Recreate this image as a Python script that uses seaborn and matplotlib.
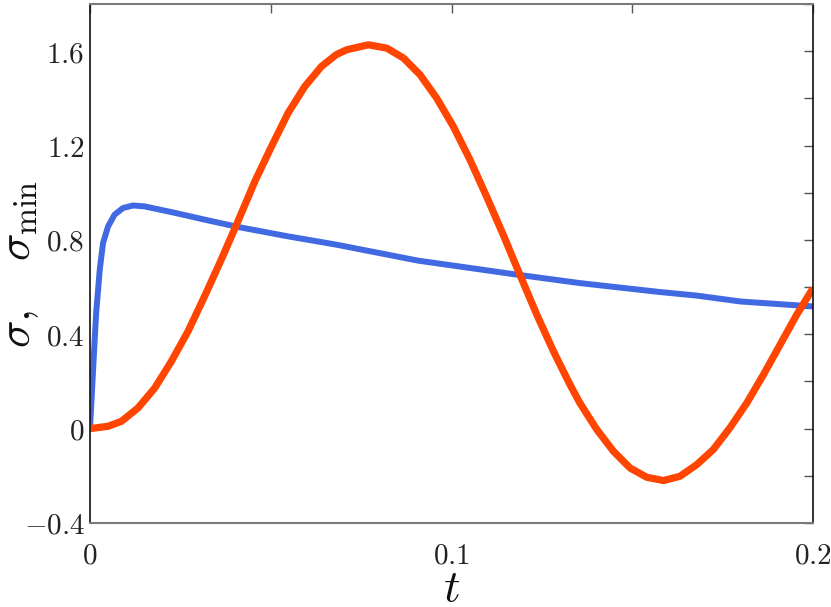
import numpy as np
import pandas as pd
import matplotlib
matplotlib.use("Agg")
import matplotlib.pyplot as plt
import seaborn as sns

# ---- data ----
t_sigma = [0.0, 0.0011, 0.0017, 0.0027, 0.0036, 0.0050, 0.0068, 0.0091, 0.0119,
           0.0151, 0.0225, 0.0317, 0.0409, 0.0548, 0.0681, 0.0908, 0.1033,
           0.1180, 0.1355, 0.1577, 0.1678, 0.1799, 0.2000]
sigma = [0.0, 0.321, 0.490, 0.674, 0.787, 0.857, 0.907, 0.935, 0.946,
         0.942, 0.918, 0.886, 0.855, 0.815, 0.780, 0.712, 0.685,
         0.653, 0.617, 0.579, 0.564, 0.539, 0.518]

t_smin = [0.0, 0.0050, 0.0087, 0.0133, 0.0179, 0.0225, 0.0271, 0.0317, 0.0363,
          0.0409, 0.0456, 0.0502, 0.0548, 0.0594, 0.0640, 0.0681, 0.0710,
          0.0770, 0.0821, 0.0867, 0.0913, 0.0959, 0.1005, 0.1051, 0.1097,
          0.1143, 0.1189, 0.1236, 0.1282, 0.1328, 0.1355, 0.1402, 0.1448,
          0.1494, 0.1540, 0.1586, 0.1632, 0.1678, 0.1724, 0.1770, 0.1817,
          0.1863, 0.1909, 0.1955, 0.2000]
sigma_min = [0.0, 0.010, 0.031, 0.088, 0.172, 0.285, 0.412, 0.561, 0.716,
             0.878, 1.048, 1.196, 1.338, 1.450, 1.535, 1.585, 1.606,
             1.627, 1.613, 1.571, 1.500, 1.401, 1.281, 1.140, 0.984,
             0.822, 0.653, 0.483, 0.328, 0.186, 0.109, -0.004, -0.096,
             -0.167, -0.206, -0.220, -0.202, -0.153, -0.089, 0.003, 0.109,
             0.229, 0.356, 0.483, 0.595]

xticks = [0.0, 0.05, 0.1, 0.15, 0.2]
xticklabels = [r"$0$", "", r"$0.1$", "", r"$0.2$"]
yticks = [-0.4, -0.2, 0.0, 0.2, 0.4, 0.6, 0.8, 1.0, 1.2, 1.4, 1.6, 1.8]
yticklabels = [r"$-0.4$", "", r"$0$", "", r"$0.4$", "", r"$0.8$", "",
               r"$1.2$", "", r"$1.6$", ""]

sns.set_style("white")
plt.rcParams["mathtext.fontset"] = "cm"
plt.rcParams["font.family"] = ["DejaVu Sans"]

df1 = pd.DataFrame({"t": t_sigma, "v": sigma})
df2 = pd.DataFrame({"t": t_smin, "v": sigma_min})

fig = plt.figure(figsize=(8.31, 6.07), dpi=100)
ax = fig.add_axes([90 / 831, 1 - 523 / 607, (813 - 90) / 831, (523 - 4) / 607])

sns.lineplot(data=df1, x="t", y="v", ax=ax, color="#4169E1", linewidth=4.3,
             sort=False, solid_capstyle="butt", solid_joinstyle="round")
sns.lineplot(data=df2, x="t", y="v", ax=ax, color="#FF4500", linewidth=5.2,
             sort=False, solid_capstyle="butt", solid_joinstyle="round")

ax.set_xlim(0, 0.2)
ax.set_ylim(-0.4, 1.8)
ax.set_xticks(xticks)
ax.set_xticklabels(xticklabels, fontsize=21, color="#222222")
ax.set_yticks(yticks)
ax.set_yticklabels(yticklabels, fontsize=21, color="#222222")

ax.tick_params(axis="both", which="both", direction="in", length=6.5, width=1.0,
               color="#555555", top=True, right=True)
ax.tick_params(axis="x", pad=13)
ax.tick_params(axis="y", pad=4)

for side in ["left", "right"]:
    ax.spines[side].set_color("#111111")
    ax.spines[side].set_linewidth(1.2)
for side in ["top", "bottom"]:
    ax.spines[side].set_color("#7a7a7a")
    ax.spines[side].set_linewidth(1.5)

ax.set_xlabel(r"$t$", fontsize=33, color="#111111")
ax.xaxis.set_label_coords(0.5, -0.083)
ax.set_ylabel(r"$\sigma,\quad\sigma_{\rm min}$", fontsize=33, color="#111111")
ax.yaxis.set_label_coords(-0.068, 0.5)

fig.savefig("out.png", dpi=100)
